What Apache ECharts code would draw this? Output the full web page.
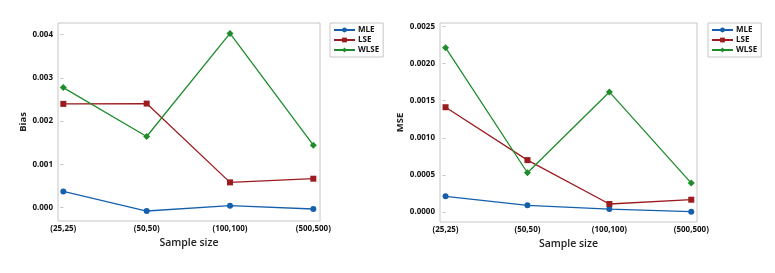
<!DOCTYPE html>
<html><head><meta charset="utf-8">
<script src="https://cdn.jsdelivr.net/npm/echarts@6/dist/echarts.min.js"></script>
<style>html,body{margin:0;padding:0;background:#fff}#c{width:775px;height:273px}</style>
</head><body><div id="c"></div>
<script>
const categories = ['(25,25)', '(50,50)', '(100,100)', '(500,500)'];
const seriesNames = ['MLE', 'LSE', 'WLSE'];
const biasMLE  = [0.000376, -0.000077, 0.000046, -0.00003];
const biasLSE  = [0.00240, 0.002407, 0.000585, 0.00067];
const biasWLSE = [0.002777, 0.001646, 0.00403, 0.001446];
const mseMLE  = [0.000211, 0.00009, 0.00004, 0.000005];
const mseLSE  = [0.001411, 0.000699, 0.000108, 0.000166];
const mseWLSE = [0.002213, 0.000529, 0.001617, 0.00039];
const biasTicks = [0, 0.001, 0.002, 0.003, 0.004];
const mseTicks = [0, 0.0005, 0.001, 0.0015, 0.002, 0.0025];

const colors = ['#1560ae', '#9b1b1f', '#1f8c2b'];
const symbols = ['circle', 'rect', 'diamond'];
const symSizes = [6, 6, 7];
const FONT = '"Open Sans", "Noto Sans", sans-serif';
const gray = '#c6c6c6';

const chart = echarts.init(document.getElementById('c'));
const idx = categories.map((_, i) => i);

function xAxis(gi, min, max) {
  return {
    type: 'value', gridIndex: gi, min: min, max: max,
    name: 'Sample size', nameLocation: 'middle', nameGap: 11,
    nameTextStyle: { fontFamily: FONT, fontSize: 10.5, color: '#222', fontWeight: 600 },
    axisLine: { show: false },
    axisTick: { show: false },
    axisLabel: { customValues: idx, formatter: v => categories[Math.round(v)], margin: 4,
      fontFamily: FONT, fontSize: 8, fontWeight: 'bold', color: '#111' },
    splitLine: { show: false }
  };
}
function yAxis(gi, min, max, ticks, digits, name, gap) {
  return {
    type: 'value', gridIndex: gi, min: min, max: max,
    name: name, nameLocation: 'middle', nameGap: gap,
    nameTextStyle: { fontFamily: FONT, fontSize: 9.5, color: '#222', fontWeight: 'bold' },
    axisLine: { show: false },
    axisTick: { show: true, inside: false, customValues: ticks, length: 3, lineStyle: { color: gray } },
    axisLabel: { customValues: ticks, formatter: v => v.toFixed(digits), margin: 5,
      fontFamily: FONT, fontSize: 8, fontWeight: 'bold', color: '#111' },
    splitLine: { show: false }
  };
}
function mk(name, i, data, gi) {
  return {
    name: name, type: 'line', xAxisIndex: gi, yAxisIndex: gi,
    data: data.map((v, k) => [idx[k], v]),
    symbol: symbols[i], symbolSize: symSizes[i], showSymbol: true,
    itemStyle: { color: colors[i] }, lineStyle: { color: colors[i], width: 1.3 },
    animation: false
  };
}
function legend(left) {
  return {
    left: left, top: 23, orient: 'vertical', data: seriesNames,
    itemWidth: 21, itemHeight: 6, itemGap: 2,
    borderColor: gray, borderWidth: 1, padding: [3, 4, 3, 3],
    textStyle: { fontFamily: FONT, fontSize: 8, fontWeight: 'bold', color: '#111', padding: [0, 0, 0, -2] },
    selectedMode: false
  };
}
chart.setOption({
  backgroundColor: '#fff',
  animation: false,
  grid: [
    { left: 58, top: 23, width: 262, height: 198, show: true, borderColor: gray, borderWidth: 1 },
    { left: 440, top: 23, width: 257, height: 199, show: true, borderColor: gray, borderWidth: 1 }
  ],
  legend: [legend(330), legend(708)],
  xAxis: [xAxis(0, -0.064, 3.08), xAxis(1, -0.068, 3.07)],
  yAxis: [yAxis(0, -0.000308, 0.00427, biasTicks, 3, 'Bias', 30),
          yAxis(1, -0.000134, 0.002545, mseTicks, 4, 'MSE', 35)],
  series: [
    mk('MLE', 0, biasMLE, 0), mk('LSE', 1, biasLSE, 0), mk('WLSE', 2, biasWLSE, 0),
    mk('MLE', 0, mseMLE, 1), mk('LSE', 1, mseLSE, 1), mk('WLSE', 2, mseWLSE, 1)
  ]
});
</script></body></html>
